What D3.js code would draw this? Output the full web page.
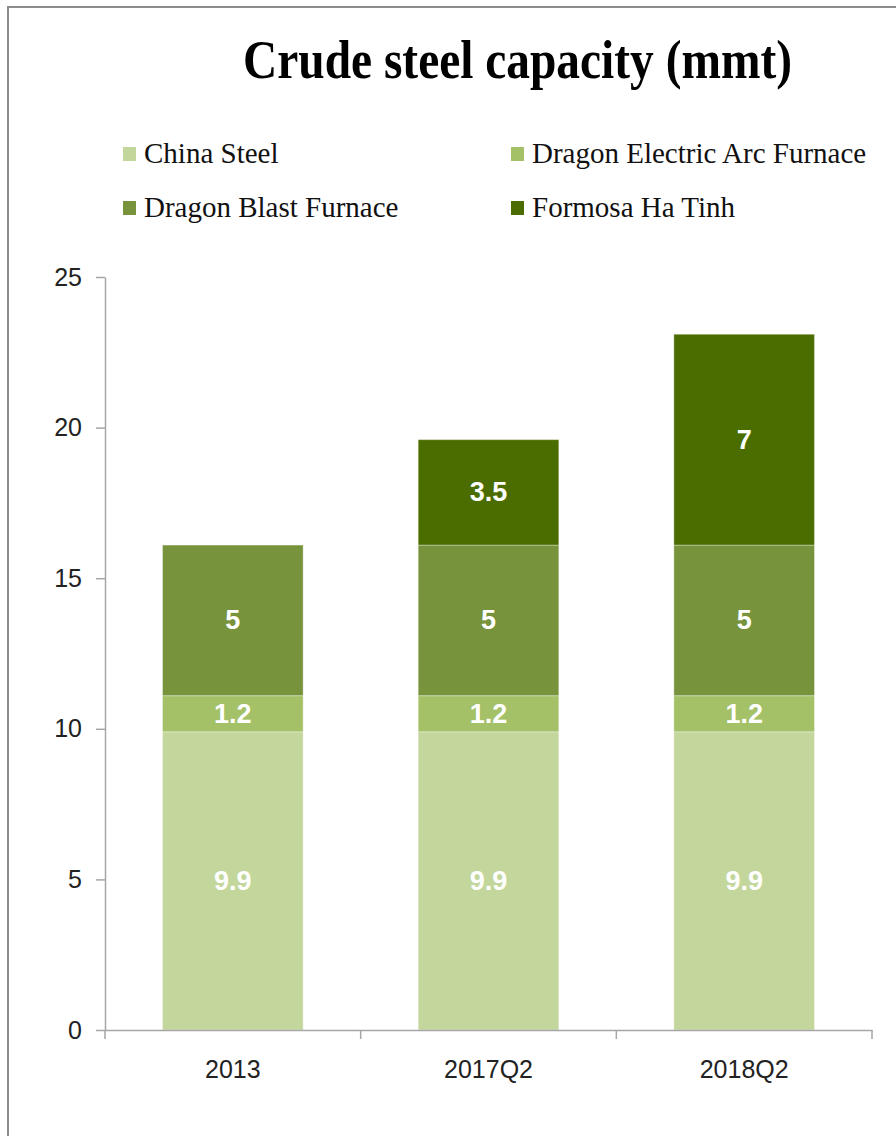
<!DOCTYPE html>
<html>
<head>
<meta charset="utf-8">
<script src="https://cdn.jsdelivr.net/npm/d3@7"></script>
<style>
  html, body { margin: 0; padding: 0; background: #ffffff; }
  svg { display: block; }
</style>
</head>
<body>
<svg id="chart" width="896" height="1136"></svg>
<script>
// ---- Data ----
const categories = ["2013", "2017Q2", "2018Q2"];
const seriesNames = ["China Steel", "Dragon Electric Arc Furnace", "Dragon Blast Furnace", "Formosa Ha Tinh"];
const chinaSteel = [9.9, 9.9, 9.9];
const dragonEAF = [1.2, 1.2, 1.2];
const dragonBF = [5, 5, 5];
const formosaHaTinh = [0, 3.5, 7];
const yTicks = [0, 5, 10, 15, 20, 25];
const title = "Crude steel capacity (mmt)";

const seriesValues = [chinaSteel, dragonEAF, dragonBF, formosaHaTinh];
const colors = ["#c3d69b", "#a4c168", "#77933c", "#4b6d00"];

const svg = d3.select("#chart");

// frame (cropped on right/bottom)
svg.append("rect")
  .attr("x", 8).attr("y", 7)
  .attr("width", 1000).attr("height", 1200)
  .attr("fill", "none")
  .attr("stroke", "#8c8c8c")
  .attr("stroke-width", 2);

// title
svg.append("text")
  .attr("x", 243).attr("y", 78)
  .attr("font-family", "'Liberation Serif', 'Times New Roman', serif")
  .attr("font-weight", "bold")
  .attr("font-size", 54)
  .attr("textLength", 549)
  .attr("lengthAdjust", "spacingAndGlyphs")
  .attr("fill", "#000")
  .text(title);

// legend
const legendPos = [
  {x: 123, y: 163}, {x: 511, y: 163},
  {x: 123, y: 217}, {x: 511, y: 217}
];
seriesNames.forEach((name, i) => {
  const p = legendPos[i];
  svg.append("rect")
    .attr("x", p.x).attr("y", p.y - 16)
    .attr("width", 13).attr("height", 14)
    .attr("fill", colors[i]);
  svg.append("text")
    .attr("x", p.x + 21).attr("y", p.y)
    .attr("font-family", "'Liberation Serif', 'Times New Roman', serif")
    .attr("font-size", 29)
    .attr("fill", "#111")
    .text(name);
});

// scales
const y = d3.scaleLinear().domain([0, 25]).range([1030, 277]);
const x = d3.scaleBand().domain(categories).range([105, 872])
  .paddingInner(0.45).paddingOuter(0.225);

// stacked data
const table = categories.map((c, i) => {
  const row = {category: c};
  seriesNames.forEach((s, j) => row[s] = seriesValues[j][i]);
  return row;
});
const stacked = d3.stack().keys(seriesNames)(table);

// bars
stacked.forEach((layer, j) => {
  const g = svg.append("g");
  layer.forEach(d => {
    const v = d[1] - d[0];
    if (v <= 0) return;
    g.append("rect")
      .attr("x", x(d.data.category))
      .attr("y", y(d[1]))
      .attr("width", x.bandwidth())
      .attr("height", y(d[0]) - y(d[1]))
      .attr("fill", colors[j])
      .attr("stroke", "rgba(255,255,255,0.35)")
      .attr("stroke-width", 1);
    g.append("text")
      .attr("x", x(d.data.category) + x.bandwidth() / 2)
      .attr("y", (y(d[0]) + y(d[1])) / 2)
      .attr("text-anchor", "middle")
      .attr("dominant-baseline", "central")
      .attr("font-family", "'Liberation Sans', Arial, sans-serif")
      .attr("font-weight", "bold")
      .attr("font-size", 27)
      .attr("fill", "#ffffff")
      .text(d3.format("~g")(v));
  });
});

// y axis
const yAxis = svg.append("g")
  .attr("transform", "translate(105,0)")
  .call(d3.axisLeft(y).tickValues(yTicks).tickSize(9).tickPadding(14).tickSizeOuter(0));
yAxis.select(".domain").attr("stroke", "#a6a6a6").attr("stroke-width", 1.5);
yAxis.selectAll(".tick line").attr("stroke", "#a6a6a6").attr("stroke-width", 1.5);
yAxis.selectAll(".tick text")
  .attr("font-family", "'Liberation Sans', Arial, sans-serif")
  .attr("font-size", 25)
  .attr("fill", "#222");

// x axis
const xAxis = svg.append("g")
  .attr("transform", "translate(0,1030)")
  .call(d3.axisBottom(x).tickSize(0).tickPadding(30).tickSizeOuter(0));
xAxis.select(".domain").attr("stroke", "#a6a6a6").attr("stroke-width", 1.5);
xAxis.selectAll(".tick text")
  .attr("font-family", "'Liberation Sans', Arial, sans-serif")
  .attr("font-size", 25)
  .attr("fill", "#222");
// category boundary ticks
const boundaries = d3.range(categories.length + 1).map(i => x.range()[0] + i * x.step());
xAxis.selectAll(".bound").data(boundaries).enter().append("line")
  .attr("x1", d => d).attr("x2", d => d)
  .attr("y1", 0).attr("y2", 9)
  .attr("stroke", "#a6a6a6").attr("stroke-width", 1.5);
</script>
</body>
</html>
